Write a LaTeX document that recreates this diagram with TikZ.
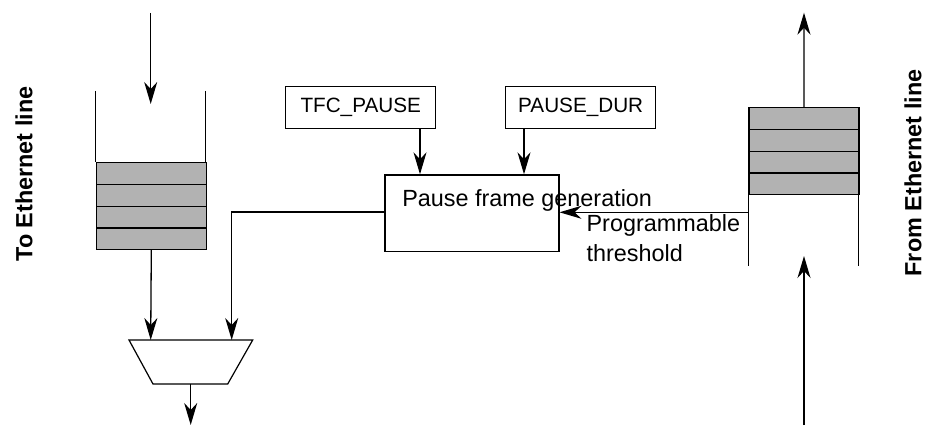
\documentclass[tikz,border=0pt]{standalone}
\usepackage{fontspec}
\setmainfont{Liberation Sans}
\usetikzlibrary{arrows.meta}
\begin{document}
\begin{tikzpicture}[x=1pt,y=-1pt,
  line width=1.2pt,
  arr/.style={-{Stealth[length=22pt,width=13pt,inset=7pt]}, line width=1.3pt},
  cell/.style={draw, fill=black!30, minimum width=110pt, minimum height=21.7pt, inner sep=0pt, anchor=north west},
  regbox/.style={draw, minimum width=150pt, minimum height=41.6pt, inner sep=0pt, font=\fontsize{20.7}{24}\selectfont},
  bigtxt/.style={font=\fontsize{23.4}{30}\selectfont, inner sep=0pt},
  side/.style={font=\bfseries\fontsize{23.4}{28}\selectfont, rotate=90, inner sep=0pt}
]
\useasboundingbox (0,0) rectangle (927,428);

% left queue (transmit)
\draw (95.7,91) -- (95.7,162);
\draw (205.7,91) -- (205.7,162);
\node[cell] (l1) at (95.7,162.2) {};
\node[cell] (l2) at (95.7,183.9) {};
\node[cell] (l3) at (95.7,205.6) {};
\node[cell] (l4) at (95.7,227.3) {};
\coordinate (lin) at (150.7,13);
\draw[arr] (lin) -- (150.7,104);

% mux
\coordinate (mtl) at (129,340);
\coordinate (mtr) at (252.7,340);
\coordinate (mbr) at (227.7,384);
\coordinate (mbl) at (153,384);
\draw[fill=white] (mtl) -- (mtr) -- (mbr) -- (mbl) -- cycle;
\coordinate (mi1) at (150.7,340);
\coordinate (mi2) at (231.7,340);
\coordinate (mo) at (190.7,384);
\coordinate (mout) at (190.7,425);
\draw[arr] (l4.south) -- (mi1);
\draw[arr] (mo) -- (mout);

% pause frame generation
\node[draw, minimum width=174pt, minimum height=76.7pt, inner sep=0pt, anchor=north west] (pfg) at (384.3,174.3) {};
\node[bigtxt, anchor=base west] (pfgt) at (401.7,206.7) {Pause frame generation};
\draw[arr] (pfg.west |- 0,212) -| (mi2);

\node[regbox] (tfc) at (360.7,107.5) {TFC\_PAUSE};
\node[regbox] (pdur) at (580.7,107.5) {PAUSE\_DUR};
\draw[arr] (tfc.south -| 420,0) -- (420,174.3);
\draw[arr] (pdur.south -| 524,0) -- (524,174.3);

% right queue (receive)
\node[cell] (r1) at (748.3,107.3) {};
\node[cell] (r2) at (748.3,129) {};
\node[cell] (r3) at (748.3,150.7) {};
\node[cell] (r4) at (748.3,172.4) {};
\draw (748.3,194) -- (748.3,265.7);
\draw (858.3,194) -- (858.3,265.7);
\coordinate (rout) at (804,12.7);
\coordinate (rin) at (804,425);
\draw[arr] (r1.north) -- (rout);
\draw[arr] (rin) -- (804,256);
\coordinate (thr) at (748.3,212.3);
\draw[arr] (thr) -- (pfg.east |- thr);
\node[bigtxt, anchor=base west, align=left] (thrt) at (586,261.7) {Programmable\\threshold};

% side labels
\node[side] (tolbl) at (24,174) {To Ethernet line};
\node[side] (fromlbl) at (913,173) {From Ethernet line};
\end{tikzpicture}
\end{document}
